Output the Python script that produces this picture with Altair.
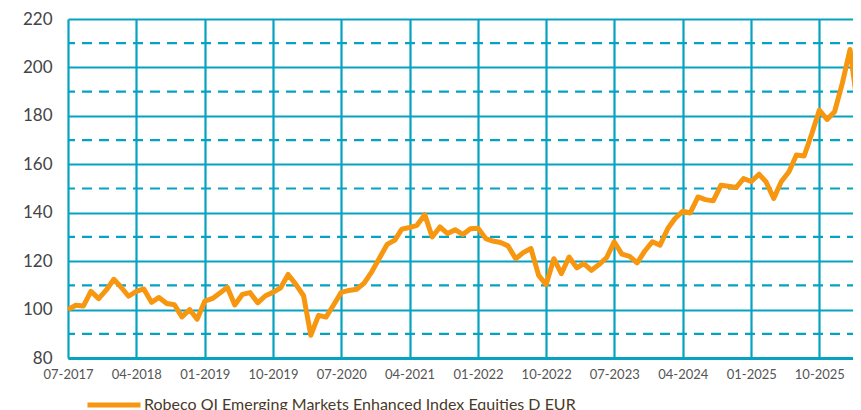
import altair as alt
import pandas as pd

# ---- data ----
start = "2017-07-01"
values = [
    100, 101.8, 101.5, 107.5, 104.5, 108,                                   # 2017 Jul-Dec
    112.5, 109, 105.5, 107.5, 108.5, 103, 105, 102.5, 102, 97, 100, 96,     # 2018
    103.5, 104.6, 106.7, 109.2, 101.9, 106.3, 107, 102.8, 105.7, 107.1, 109, 114.5,  # 2019
    110.4, 105.7, 89.4, 97.6, 96.9, 102, 107.1, 107.9, 108.4, 110.9, 115.7, 121.2,   # 2020
    126.9, 128.7, 133.2, 133.9, 134.8, 139.2, 130, 134.1, 131.4, 133, 131, 133.4,    # 2021
    133.6, 129.3, 128.3, 127.7, 126.3, 121, 123.5, 125.2, 114.1, 110.3, 121, 114.8,  # 2022
    121.7, 117.2, 119, 116.2, 118.6, 121.5, 128, 122.9, 122, 119.3, 124.2, 128,      # 2023
    126.6, 133.5, 137.6, 140.6, 139.9, 146.5, 145.4, 144.9, 151.3, 150.9, 150.4, 154.1,  # 2024
    152.9, 155.9, 152.8, 145.9, 152.8, 156.9, 163.8, 163.4, 172.7, 182.4, 178.5, 181.7,  # 2025
    193.4, 207.4, 185.8,                                                     # 2026 Jan-Mar
]
series_name = "Robeco QI Emerging Markets Enhanced Index Equities D EUR"
tick_months = [(2017, 7), (2018, 4), (2019, 1), (2019, 10), (2020, 7), (2021, 4),
               (2022, 1), (2022, 10), (2023, 7), (2024, 4), (2025, 1), (2025, 10)]
y_ticks = [80, 100, 120, 140, 160, 180, 200, 220]
dash_levels = [90, 110, 130, 150, 170, 190, 210]

dates = pd.date_range(start, periods=len(values), freq="MS")
df = pd.DataFrame({
    "date": [d.strftime("%Y-%m-%dT00:00:00") for d in dates],
    "value": values,
    "series": series_name,
})
dash_df = pd.DataFrame({"level": dash_levels})

TEAL = "#06a2c2"
ORANGE = "#f7960f"
FONT = "Lato"

x_enc = alt.X(
    "date:T",
    scale=alt.Scale(domain=[alt.DateTime(year=2017, month=7, date=1),
                            alt.DateTime(year=2026, month=3, date=1)], nice=False),
    axis=alt.Axis(
        values=[alt.DateTime(year=y, month=m, date=1) for y, m in tick_months],
        format="%m-%Y", title=None, ticks=False, labelPadding=10,
        labelOverlap=False, labelFlush=False, labelBound=False,
        labelFontSize=13, labelColor="#555555", labelFont=FONT,
        grid=True, gridColor=TEAL, gridWidth=2.2, gridOpacity=1,
        domain=True, domainColor=TEAL, domainWidth=3,
    ),
)
y_enc = alt.Y(
    "value:Q",
    scale=alt.Scale(domain=[80, 220], nice=False, zero=False),
    axis=alt.Axis(
        values=y_ticks, title=None, ticks=False, labelPadding=16,
        labelFontSize=17, labelColor="#444444", labelFont=FONT,
        grid=True, gridColor=TEAL, gridWidth=2.2, gridOpacity=1, domain=False,
    ),
)

rules = alt.Chart(dash_df).mark_rule(
    color=TEAL, strokeWidth=2.2, strokeDash=[10, 7]
).encode(y=alt.Y("level:Q", scale=alt.Scale(domain=[80, 220], nice=False, zero=False)))

line = alt.Chart(df).mark_line(strokeWidth=5, strokeJoin="round").encode(
    x=x_enc,
    y=y_enc,
    color=alt.Color(
        "series:N",
        scale=alt.Scale(range=[ORANGE]),
        legend=alt.Legend(
            title=None, orient="none", legendX=17, legendY=357,
            symbolType="stroke", symbolStrokeWidth=5, symbolSize=2809,
            labelFontSize=16, labelColor="#4a3a28", labelFont=FONT,
            labelOffset=1, labelLimit=0,
        ),
    ),
)

chart = alt.layer(rules, line).properties(
    width=789, height=339,
    autosize=alt.AutoSizeParams(type="none"),
    padding={"left": 60, "top": 11, "right": -4, "bottom": 52},
).configure_view(stroke=None)

chart.save("out.html", embed_options={"renderer": "svg", "actions": False})
